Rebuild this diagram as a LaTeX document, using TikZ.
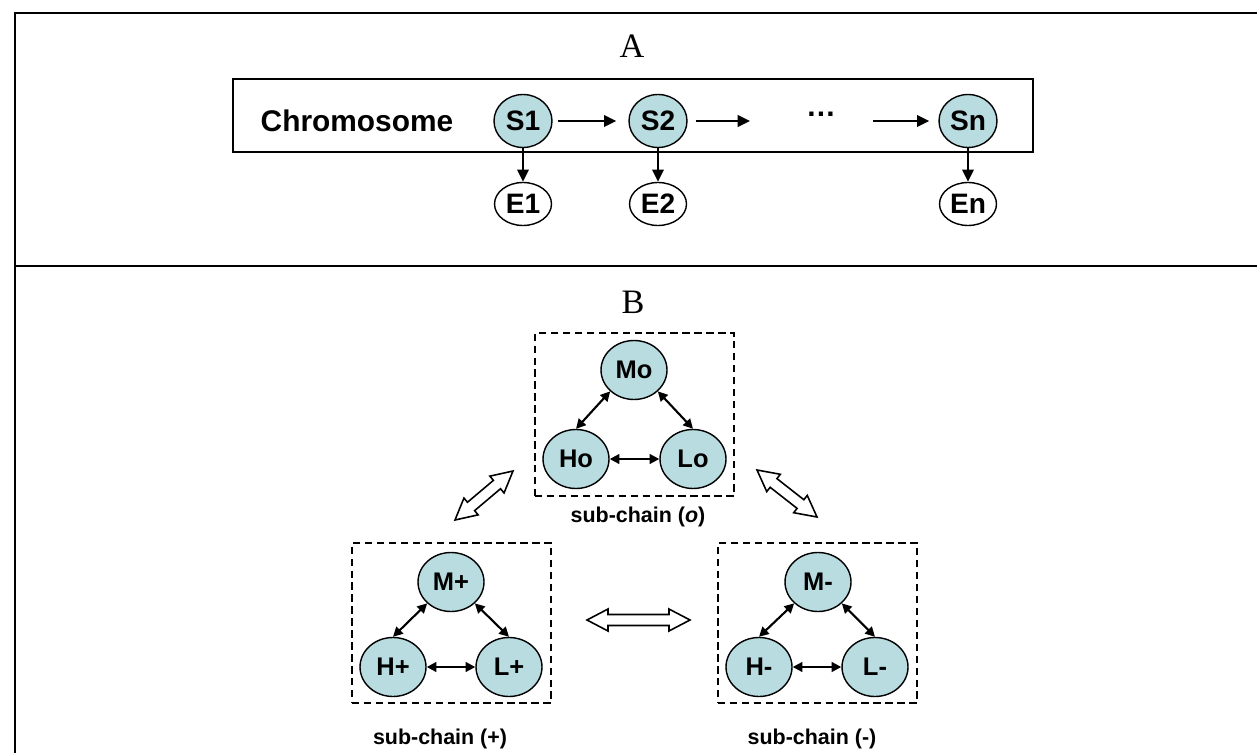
\documentclass[tikz,border=0pt]{standalone}
\usepackage{fontspec}
\setmainfont{Liberation Serif}
\setsansfont{Liberation Sans}
\usetikzlibrary{shapes.geometric,arrows.meta,calc}
\definecolor{nodefill}{RGB}{184,220,224}
\newcommand\hollowpair[2]{%
  \path ($(#1)!0.42cm!(#2)$) coordinate (hpA) ($(#2)!0.42cm!(#1)$) coordinate (hpB);
  \draw[hollowarr] (#1) -- ($(hpA)!0.22cm!90:(#2)$) -- ($(hpA)!0.11cm!90:(#2)$)
    -- ($(hpB)!0.11cm!-90:(#1)$) -- ($(hpB)!0.22cm!-90:(#1)$) -- (#2)
    -- ($(hpB)!0.22cm!90:(#1)$) -- ($(hpB)!0.11cm!90:(#1)$)
    -- ($(hpA)!0.11cm!-90:(#2)$) -- ($(hpA)!0.22cm!-90:(#2)$) -- cycle;}
\begin{document}
\begin{tikzpicture}[x=0.02cm, y=-0.02cm,
  panel/.style={font=\rmfamily\fontsize{19.5}{22}\selectfont},
  lab/.style={font=\sffamily\bfseries\fontsize{16}{18}\selectfont},
  snode/.style={ellipse, draw, line width=0.8pt, fill=nodefill, minimum width=1.16cm,
    minimum height=1.06cm, inner sep=0pt, font=\sffamily\bfseries\fontsize{16}{18}\selectfont},
  enode/.style={ellipse, draw, line width=0.8pt, fill=white, minimum width=1.14cm,
    minimum height=0.86cm, inner sep=0pt, font=\sffamily\bfseries\fontsize{16}{18}\selectfont},
  cnode/.style={ellipse, draw, line width=0.8pt, fill=nodefill, minimum width=1.32cm,
    minimum height=1.18cm, inner sep=0pt, font=\sffamily\bfseries\fontsize{14.5}{16}\selectfont},
  sublab/.style={font=\sffamily\bfseries\fontsize{12.2}{14}\selectfont},
  flow/.style={-{Triangle[length=7pt,width=6.5pt]}, line width=1.3pt},
  link/.style={{Triangle[length=5.5pt,width=5.5pt]}-{Triangle[length=5.5pt,width=5.5pt]}, line width=1.2pt},
  dashbox/.style={draw, dash pattern=on 4.2pt off 2.6pt, line width=1.1pt, inner sep=0pt},
  hollowarr/.style={draw, line width=0.9pt, fill=white, line join=miter},
  frame/.style={line width=1.2pt},
]
\useasboundingbox (0,0) rectangle (1257,753);
% frame
\draw[frame] (1257,13) -- (15,13) -- (15,753);
\draw[frame] (15,266) -- (1257,266);

% ---------- Panel A ----------
\node[panel] (lA) at (632,46) {A};
\node[draw, line width=0.9pt, minimum width=16cm, minimum height=1.46cm, inner sep=0pt] (chrom) at (633,115.5) {};
\node[lab, font=\sffamily\bfseries\fontsize{17}{19}\selectfont] (ctext) at (357,121) {Chromosome};
\node[snode] (S1) at (523,121) {S1};
\node[snode] (S2) at (658,121) {S2};
\node[snode] (Sn) at (968,121) {Sn};
\node[enode] (E1) at (523,204) {E1};
\node[enode] (E2) at (658,204) {E2};
\node[enode] (En) at (968,204) {En};
\node[lab, font=\sffamily\bfseries\fontsize{17}{19}\selectfont, anchor=base, inner sep=0pt] (dots) at (821,117) {…};
\coordinate (d1) at (750,121);
\coordinate (d2) at (873,121);
\draw[flow, shorten <=0.1cm, shorten >=0.24cm] (S1) -- (S2);
\draw[flow, shorten <=0.16cm] (S2) -- (d1);
\draw[flow, shorten >=0.18cm] (d2) -- (Sn);
\draw[flow] (S1) -- (E1);
\draw[flow] (S2) -- (E2);
\draw[flow] (Sn) -- (En);

% ---------- Panel B ----------
\node[panel] (lB) at (633,302) {B};
\node[dashbox, minimum width=3.98cm, minimum height=3.26cm] (bo) at (634.5,414.5) {};
\node[dashbox, minimum width=3.98cm, minimum height=3.2cm] (bp) at (451.5,623) {};
\node[dashbox, minimum width=3.98cm, minimum height=3.2cm] (bm) at (817.5,623) {};

\node[cnode] (Mo) at (634,370) {Mo};
\node[cnode] (Ho) at (576,459) {Ho};
\node[cnode] (Lo) at (693,459) {Lo};
\node[cnode] (Mp) at (451,582) {M+};
\node[cnode] (Hp) at (393,667) {H+};
\node[cnode] (Lp) at (509,667) {L+};
\node[cnode] (Mm) at (818,582) {M-};
\node[cnode] (Hm) at (759,667) {H-};
\node[cnode] (Lm) at (875,667) {L-};

\foreach \m/\h/\l in {Mo/Ho/Lo, Mp/Hp/Lp, Mm/Hm/Lm}{
  \draw[link] (\m.south west) -- (\h.north);
  \draw[link] (\m.south east) -- (\l.north);
  \draw[link] (\h.east) -- (\l.west);
}

\node[sublab] (so) at (638,517) {sub-chain (\textit{o})};
\node[sublab] (sp) at (440,739) {sub-chain (+)};
\node[sublab] (sm) at (812,739) {sub-chain (-)};

\coordinate (ha1) at (455,520); \coordinate (hb1) at (513,471);
\coordinate (ha2) at (757,470); \coordinate (hb2) at (817,517);
\coordinate (ha3) at (587,620); \coordinate (hb3) at (690,620);
\hollowpair{ha1}{hb1}
\hollowpair{ha2}{hb2}
\hollowpair{ha3}{hb3}
\end{tikzpicture}
\end{document}
